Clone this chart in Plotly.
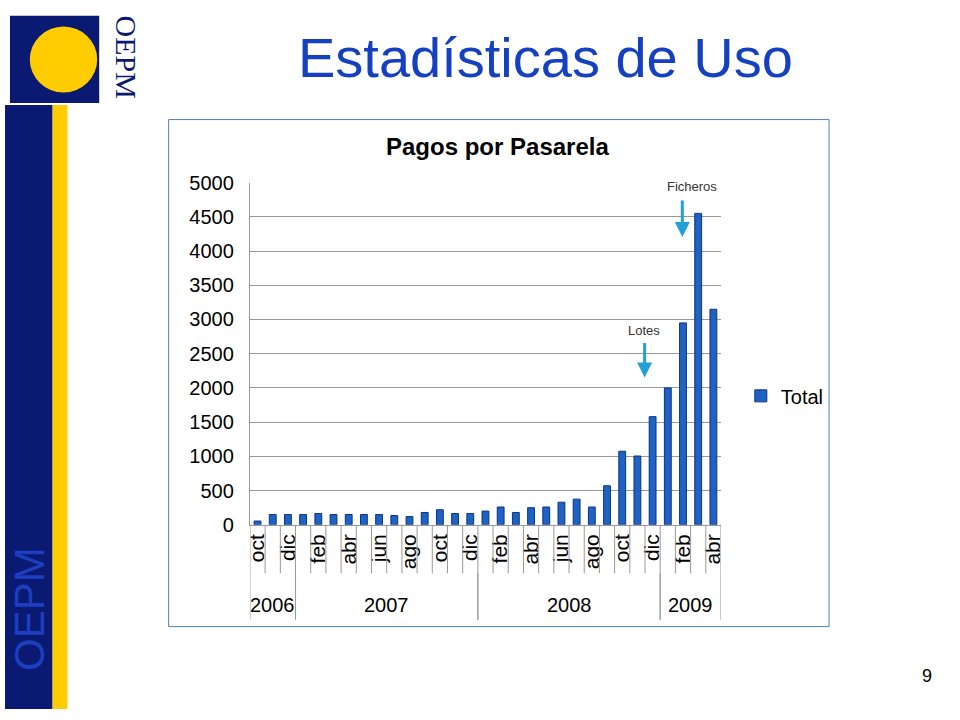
import plotly.graph_objects as go

months = ['oct', 'nov', 'dic', 'ene', 'feb', 'mar', 'abr', 'may', 'jun', 'jul', 'ago', 'sep',
          'oct', 'nov', 'dic', 'ene', 'feb', 'mar', 'abr', 'may', 'jun', 'jul', 'ago', 'sep',
          'oct', 'nov', 'dic', 'ene', 'feb', 'mar', 'abr']
totals = [55, 150, 150, 150, 165, 150, 150, 150, 150, 135, 120, 180, 220, 165, 165, 200,
          260, 180, 250, 260, 330, 375, 260, 570, 1075, 1005, 1580, 2000, 2950, 4550, 3150]
years = ['2006', '2007', '2008', '2009']
year_spans = [(0, 2), (3, 14), (15, 26), (27, 30)]

W, H = 960, 720
px = lambda v: v / W
py = lambda v: 1 - v / H

x = list(range(len(totals)))
fig = go.Figure(go.Bar(
    x=x, y=totals, name='Total', width=0.45,
    marker=dict(color='#1f62c4', line=dict(color='#0b3580', width=1)),
))

shapes = [
    dict(type='rect', xref='paper', yref='paper', x0=0, x1=px(48), y0=0, y1=py(97),
         fillcolor='#0a1a73', line_width=0, layer='below'),
    dict(type='rect', xref='paper', yref='paper', x0=px(48), x1=px(63), y0=0, y1=py(97),
         fillcolor='#ffcc00', line_width=0, layer='below'),
    dict(type='rect', xref='paper', yref='paper', x0=px(5), x1=px(95), y0=py(95), y1=py(5),
         fillcolor='#0a1a73', line_width=0, layer='below'),
    dict(type='circle', xref='paper', yref='paper', x0=px(25), x1=px(93), y0=py(84), y1=py(16),
         fillcolor='#ffcc00', line_width=0, layer='below'),
    dict(type='rect', xref='paper', yref='paper', x0=px(165), x1=px(831), y0=py(635), y1=py(112),
         line=dict(color='#4f81bd', width=1), layer='below'),
]
# category separators below the axis
for i in range(len(totals) + 1):
    shapes.append(dict(type='line', xref='x', yref='paper', x0=i - 0.5, x1=i - 0.5,
                       y0=py(580), y1=py(530), line=dict(color='#999999', width=1)))
for s, e in year_spans:
    for b in (s, e + 1):
        shapes.append(dict(type='line', xref='x', yref='paper', x0=b - 0.5, x1=b - 0.5,
                           y0=py(628), y1=py(580), line=dict(color='#999999', width=1)))


def label(text, xv, yv, size, color='#000000', family='Liberation Sans', angle=0, xref='paper'):
    return dict(text=text, x=xv, y=yv, xref=xref, yref='paper', showarrow=False,
                xanchor='center', yanchor='middle', textangle=angle,
                font=dict(family=family, size=size, color=color))


annotations = [
    label('OEPM', px(122), py(48), 30, '#0a1a73', 'Liberation Serif', 90),
    label('Estadísticas de Uso', px(545), py(48), 56, '#1540c0'),
    label('OEPM', px(24), py(617), 42, '#1d3fbf', angle=-90),
    label('9', px(930), py(686), 18),
    label('<b>Pagos por Pasarela</b>', px(497), py(140), 24),
    label('Ficheros', px(693), py(181), 13, '#333333'),
    label('Lotes', px(644), py(330), 13, '#333333'),
    dict(x=px(683), y=py(233), ax=0, ay=-38, xref='paper', yref='paper',
         text='', showarrow=True, arrowhead=2, arrowsize=1,
         arrowwidth=3, arrowcolor='#22a0d8'),
    dict(x=px(645), y=py(378), ax=0, ay=-36, xref='paper', yref='paper',
         text='', showarrow=True, arrowhead=2, arrowsize=1,
         arrowwidth=3, arrowcolor='#22a0d8'),
]
for yr, (s, e) in zip(years, year_spans):
    annotations.append(label(yr, (s + e) / 2, py(613), 20, xref='x'))

fig.update_layout(
    width=W, height=H, margin=dict(l=0, r=0, t=0, b=0),
    paper_bgcolor='white', plot_bgcolor='white',
    font=dict(family='Liberation Sans', color='#000000'),
    showlegend=True,
    legend=dict(x=px(742), y=py(397), xanchor='left', yanchor='middle',
                font=dict(size=20), itemwidth=30, bgcolor='rgba(0,0,0,0)'),
    xaxis=dict(domain=[px(247), px(722)], range=[-0.5, len(totals) - 0.5],
               tickvals=x[::2], ticktext=months[::2], tickangle=-90,
               tickfont=dict(size=21), showgrid=False, showline=True,
               linecolor='#999999', ticks=''),
    yaxis=dict(domain=[py(530), py(177)], range=[0, 5000], dtick=500,
               tickfont=dict(size=20), showgrid=True, gridcolor='#999999',
               showline=True, linecolor='#999999', zeroline=False, ticksuffix='  '),
    shapes=shapes, annotations=annotations, bargap=0.5,
)
fig.write_html('out.html', config={'displayModeBar': False},
               post_script="document.body.style.margin='0';")
